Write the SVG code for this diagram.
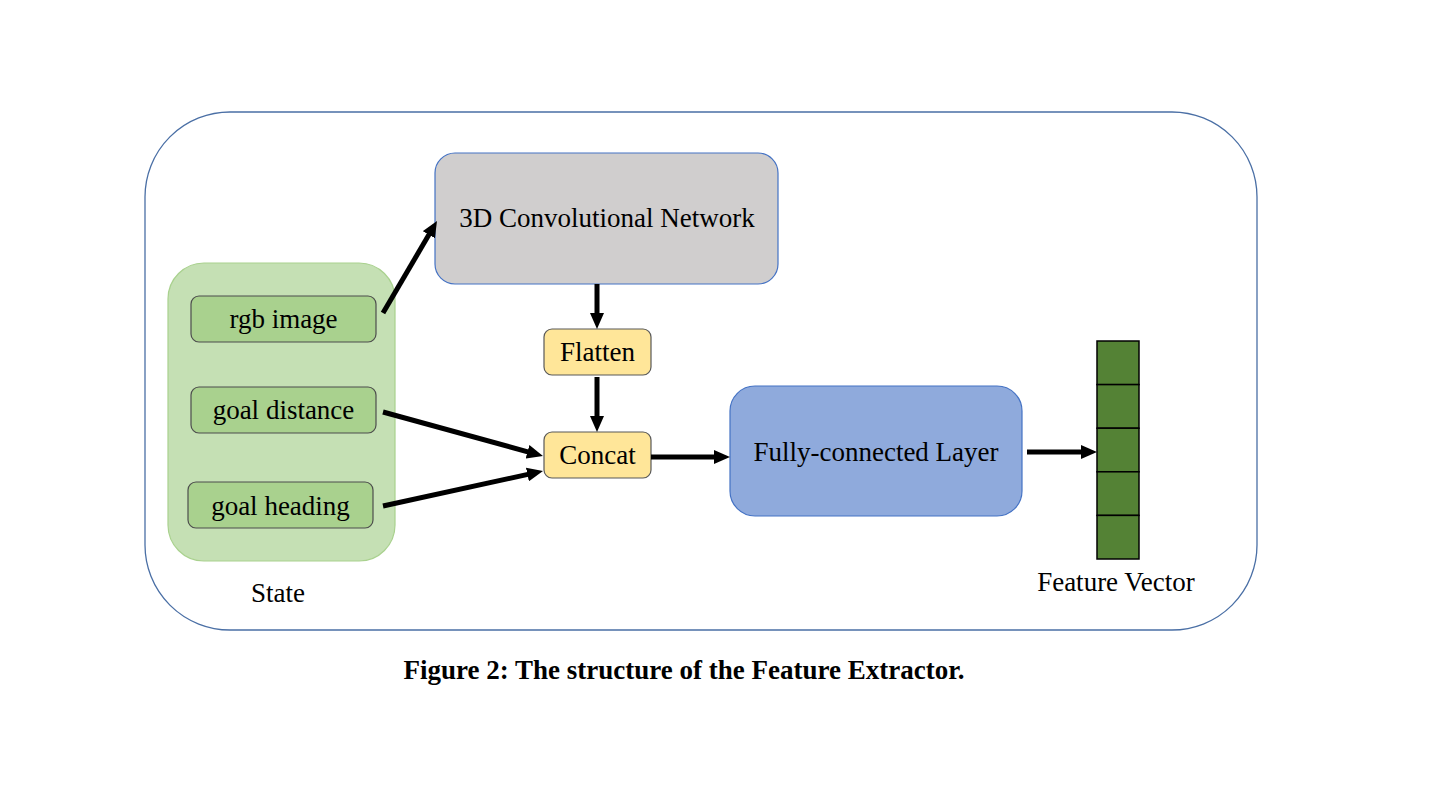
<svg xmlns="http://www.w3.org/2000/svg" width="1440" height="810" viewBox="0 0 1440 810">
<defs>
<style>
text{font-family:"Liberation Serif","Times New Roman",serif;font-size:27px;fill:#000;text-anchor:middle}
.cap{font-weight:bold}
.item{fill:#a9d18e;stroke:#4d4d4d;stroke-width:1.2}
.op{fill:#ffe699;stroke:#595959;stroke-width:1.2}
.conn line{stroke:#000;stroke-width:5;marker-end:url(#ah)}
.cell{fill:#548235;stroke:#000;stroke-width:1.5}
</style>
<marker id="ah" viewBox="0 0 16 14" markerWidth="16" markerHeight="14" refX="4" refY="7" orient="auto" markerUnits="userSpaceOnUse">
<path d="M0,0 L16,7 L0,14 z" fill="#000"/>
</marker>
</defs>
<rect width="1440" height="810" fill="#fff"/>
<g id="frame">
<rect x="145" y="112" width="1112" height="518" rx="85" ry="85" fill="none" stroke="#4a6fa5" stroke-width="1.3"/>
</g>
<g id="state">
<rect x="168" y="263" width="227" height="298" rx="36" ry="36" fill="#c5e0b4" stroke="#a9d18e" stroke-width="1.2"/>
<text x="278" y="602">State</text>
</g>
<g id="rgb-image">
<rect class="item" x="191" y="296" width="185" height="46" rx="8"/>
<text x="283.5" y="328">rgb image</text>
</g>
<g id="goal-distance">
<rect class="item" x="191" y="387" width="185" height="46" rx="8"/>
<text x="283.5" y="419">goal distance</text>
</g>
<g id="goal-heading">
<rect class="item" x="188" y="482" width="185" height="46" rx="8"/>
<text x="280.5" y="515">goal heading</text>
</g>
<g id="conv3d">
<rect x="435" y="153" width="343" height="131" rx="20" fill="#d0cece" stroke="#4472c4" stroke-width="1.2"/>
<text x="607" y="227">3D Convolutional Network</text>
</g>
<g id="flatten">
<rect class="op" x="544" y="329" width="107" height="46" rx="8"/>
<text x="597.5" y="361">Flatten</text>
</g>
<g id="concat">
<rect class="op" x="544" y="432" width="107" height="46" rx="8"/>
<text x="597.5" y="464">Concat</text>
</g>
<g id="fc">
<rect x="730" y="386" width="292" height="130" rx="25" fill="#8faadc" stroke="#4472c4" stroke-width="1.2"/>
<text x="876" y="461">Fully-connected Layer</text>
</g>
<g id="feature-vector">
<rect class="cell" x="1097" y="341" width="42" height="43.6"/>
<rect class="cell" x="1097" y="384.6" width="42" height="43.6"/>
<rect class="cell" x="1097" y="428.2" width="42" height="43.6"/>
<rect class="cell" x="1097" y="471.8" width="42" height="43.6"/>
<rect class="cell" x="1097" y="515.4" width="42" height="43.6"/>
<text x="1116" y="591">Feature Vector</text>
</g>
<g id="connectors" class="conn">
<line x1="383" y1="313" x2="430.9" y2="231.3"/>
<line x1="597" y1="284" x2="597" y2="317"/>
<line x1="597" y1="377" x2="597" y2="420"/>
<line x1="383" y1="412" x2="531.4" y2="452.8"/>
<line x1="383" y1="506" x2="531.3" y2="473.6"/>
<line x1="651" y1="457" x2="718" y2="457"/>
<line x1="1027" y1="452" x2="1085" y2="452"/>
</g>
<g id="caption">
<text class="cap" x="684" y="679">Figure 2: The structure of the Feature Extractor.</text>
</g>
</svg>
